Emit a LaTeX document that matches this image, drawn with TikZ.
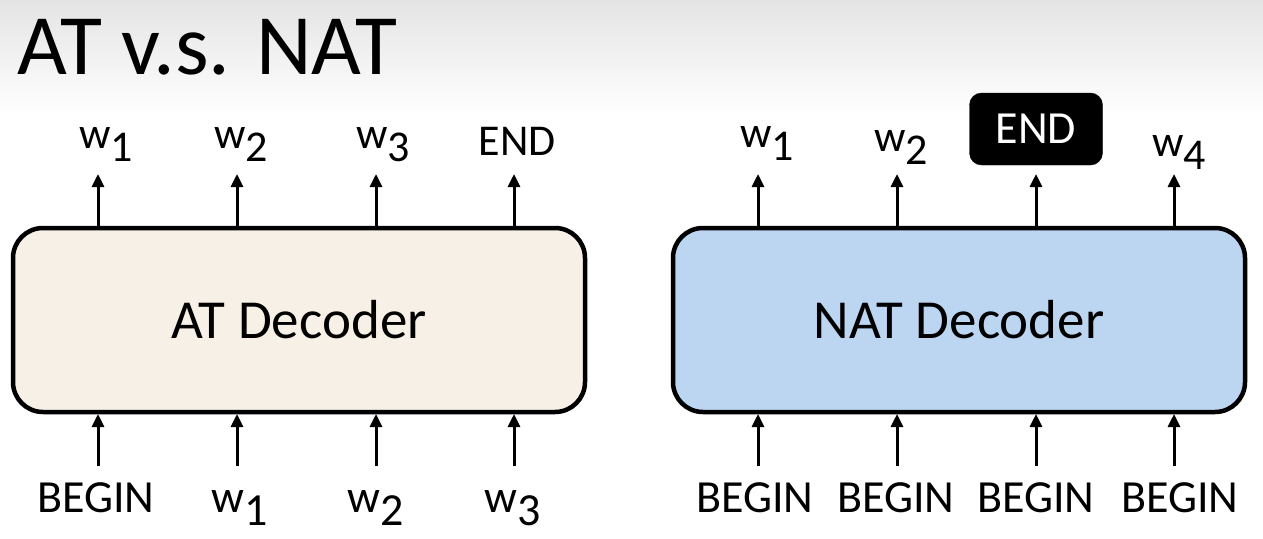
\documentclass[tikz,border=0pt]{standalone}
\usepackage{fontspec}
\setmainfont{Carlito}
\usetikzlibrary{arrows.meta}
\definecolor{atfill}{RGB}{247,240,230}
\definecolor{natfill}{RGB}{188,214,242}
\definecolor{topgray}{RGB}{228,228,228}
\tikzset{
  decbox/.style={draw=black,line width=4.5pt,rounded corners=30pt},
  arr/.style={line width=3pt,-{Triangle[length=13pt,width=12pt]}},
  lbl/.style={inner sep=0pt,font=\fontsize{44pt}{48pt}\selectfont},
  blbl/.style={inner sep=0pt,font=\fontsize{46pt}{50pt}\selectfont},
}
\newcommand{\wsub}[1]{w\raisebox{-13pt}{#1}}
\begin{document}
\begin{tikzpicture}[x=1pt,y=-1pt]
\useasboundingbox (0,0) rectangle (1263,538);
\fill[white] (0,0) rectangle (1263,538);
\shade[top color=topgray,bottom color=white] (0,0) rectangle (1263,115);
% title
\node[inner sep=0pt,anchor=base west,font=\fontsize{86pt}{94pt}\selectfont] (title) at (17,74) {AT v.s. NAT};
% boxes
\draw[decbox,fill=atfill] (13,228) rectangle (585,412);
\draw[decbox,fill=natfill] (673,228) rectangle (1245,412);
\node[inner sep=0pt,anchor=base,font=\fontsize{55pt}{60pt}\selectfont] (atdec) at (299,338) {AT Decoder};
\node[inner sep=0pt,anchor=base,font=\fontsize{55pt}{60pt}\selectfont] (natdec) at (959,338) {NAT Decoder};
% AT top outputs
\node[lbl,anchor=base] (ao1) at (106,148) {\wsub{1}};
\node[lbl,anchor=base] (ao2) at (241,148) {\wsub{2}};
\node[lbl,anchor=base] (ao3) at (383,148) {\wsub{3}};
\node[lbl,anchor=base] (ao4) at (517,155) {END};
% AT bottom inputs
\node[blbl,anchor=base] (ai1) at (96,512) {BEGIN};
\node[blbl,anchor=base] (ai2) at (240,512) {\wsub{1}};
\node[blbl,anchor=base] (ai3) at (376,512) {\wsub{2}};
\node[blbl,anchor=base] (ai4) at (513,512) {\wsub{3}};
% NAT top outputs
\node[lbl,anchor=base] (no1) at (767,147) {\wsub{1}};
\node[lbl,anchor=base] (no2) at (901,151) {\wsub{2}};
\node[draw=black,fill=black,rounded corners=12pt,minimum width=133pt,minimum height=72pt,inner sep=0pt,text=white,font=\fontsize{46pt}{50pt}\selectfont] (no3) at (1036,129) {END};
\node[lbl,anchor=base] (no4) at (1179,156) {\wsub{4}};
% NAT bottom inputs
\node[blbl,anchor=base] (ni1) at (755,512) {BEGIN};
\node[blbl,anchor=base] (ni2) at (896,512) {BEGIN};
\node[blbl,anchor=base] (ni3) at (1036,512) {BEGIN};
\node[blbl,anchor=base] (ni4) at (1180,512) {BEGIN};
% arrow endpoints
\foreach \i/\x in {1/98,2/237,3/376,4/514}{
  \coordinate (at\i) at (\x,226);
  \coordinate (att\i) at (\x,174);
  \coordinate (ab\i) at (\x,466);
  \coordinate (abt\i) at (\x,414);
}
\foreach \i/\x in {1/758,2/897,3/1036,4/1174}{
  \coordinate (nt\i) at (\x,226);
  \coordinate (ntt\i) at (\x,174);
  \coordinate (nb\i) at (\x,466);
  \coordinate (nbt\i) at (\x,414);
}
\foreach \i in {1,2,3,4}{
  \draw[arr] (at\i) -- (att\i);
  \draw[arr] (ab\i) -- (abt\i);
  \draw[arr] (nt\i) -- (ntt\i);
  \draw[arr] (nb\i) -- (nbt\i);
}
\end{tikzpicture}
\end{document}
